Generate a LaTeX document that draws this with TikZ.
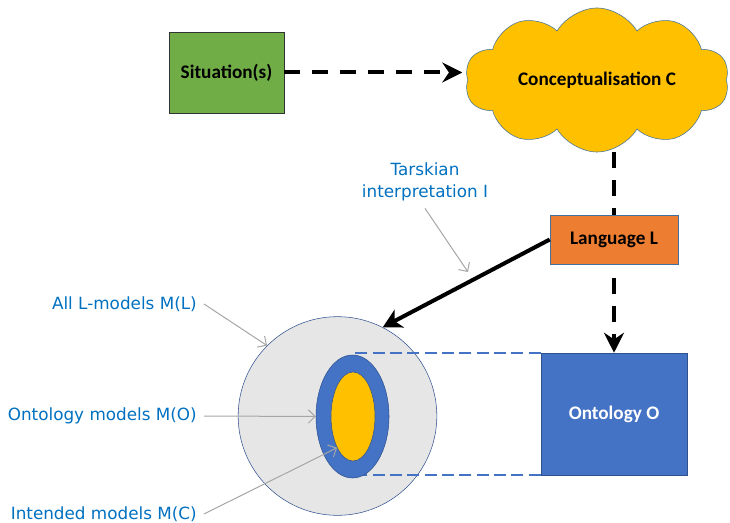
\documentclass[tikz,border=0pt]{standalone}
\usepackage{fontspec}
\setmainfont{Carlito}
\newfontfamily\labfont{DejaVu Sans}
\usetikzlibrary{shapes.geometric,shapes.symbols,arrows.meta}
\definecolor{sitgreen}{HTML}{70AD47}
\definecolor{cloudyel}{HTML}{FFC000}
\definecolor{langor}{HTML}{ED7D31}
\definecolor{ontblue}{HTML}{4472C4}
\definecolor{labblue}{HTML}{0070C0}
\definecolor{circfill}{HTML}{E7E6E6}
\definecolor{circline}{HTML}{2F528F}
\definecolor{cloudline}{HTML}{41719C}
\definecolor{garrowcol}{HTML}{A6A6A6}
\begin{document}
\begin{tikzpicture}[x=0.75pt,y=-0.75pt,
  boxtext/.style={font=\fontsize{14.4}{17}\selectfont\bfseries},
  lab/.style={font=\labfont\fontsize{12.6}{16.5}\selectfont, text=labblue, inner sep=5.25pt},
  bdash/.style={line width=3pt, dash pattern=on 12pt off 9pt},
  btip/.style={-{Stealth[length=15pt,width=15pt,inset=5pt]}},
  bluedash/.style={draw=ontblue, line width=1.5pt, dash pattern=on 9pt off 4pt},
  garrow/.style={draw=garrowcol, line width=0.75pt, -{Straight Barb[length=5pt,width=10pt]}}
]
\useasboundingbox (0,0) rectangle (730,523);

% boxes
\node[draw=black!80, fill=sitgreen, minimum width=86.25pt, minimum height=60.75pt, boxtext] (sit) at (226.5,72.5) {Situation(s)};
\node[cloud, cloud puffs=10, cloud puff arc=120, aspect=2.2, draw=cloudline, fill=cloudyel, minimum width=198pt, minimum height=88pt, boxtext] (concept) at (597,80) {Conceptualisation C};
\node[draw=cloudline, fill=langor, minimum width=96pt, minimum height=36.75pt, boxtext] (lang) at (614,239.5) {Language L};
\node[draw=circline, fill=ontblue, minimum width=109.5pt, minimum height=91.5pt, boxtext, text=white] (onto) at (614,414) {Ontology O};

% model sets
\node[circle, draw=circline, fill=circfill, minimum size=149pt, inner sep=0pt] (bigc) at (337.5,416) {};
\draw[bluedash] (onto.north west) -- (onto.north west -| 354,0);
\draw[bluedash] (onto.south west) -- (onto.south west -| 354,0);
\node[ellipse, draw=circline, fill=ontblue, minimum width=54.75pt, minimum height=92.25pt, inner sep=0pt] (blue) at (352.5,416.5) {};
\node[ellipse, draw=circline, fill=cloudyel, minimum width=33pt, minimum height=66.75pt, inner sep=0pt] (yellow) at (353,416.5) {};

% connectors
\draw[bdash, btip, shorten >=4pt] (sit.east) -- (sit.east -| concept.west);
\draw[bdash] (concept.south -| lang.north) -- (lang.north);
\draw[bdash, btip, shorten <=10pt] (lang.south) -- (onto.north);
\draw[line width=3pt, -{Stealth[length=14pt,width=15pt,inset=4pt]}] (lang.west) -- (bigc.63);

% labels
\node[lab, align=center] (tarski) at (425,182) {Tarskian\\interpretation I};
\coordinate (tI) at (468,272);
\draw[garrow] (tarski.south) -- (tI);

\node[lab, anchor=east] (lL) at (204,304) {All L-models M(L)};
\draw[garrow] (lL.east) -- (bigc.135);
\node[lab, anchor=east] (lO) at (204,416) {Ontology models M(O)};
\draw[garrow] (lO.east) -- (blue.west);
\node[lab, anchor=east] (lC) at (204,514) {Intended models M(C)};
\draw[garrow] (lC.east) -- (yellow.243);
\end{tikzpicture}
\end{document}
